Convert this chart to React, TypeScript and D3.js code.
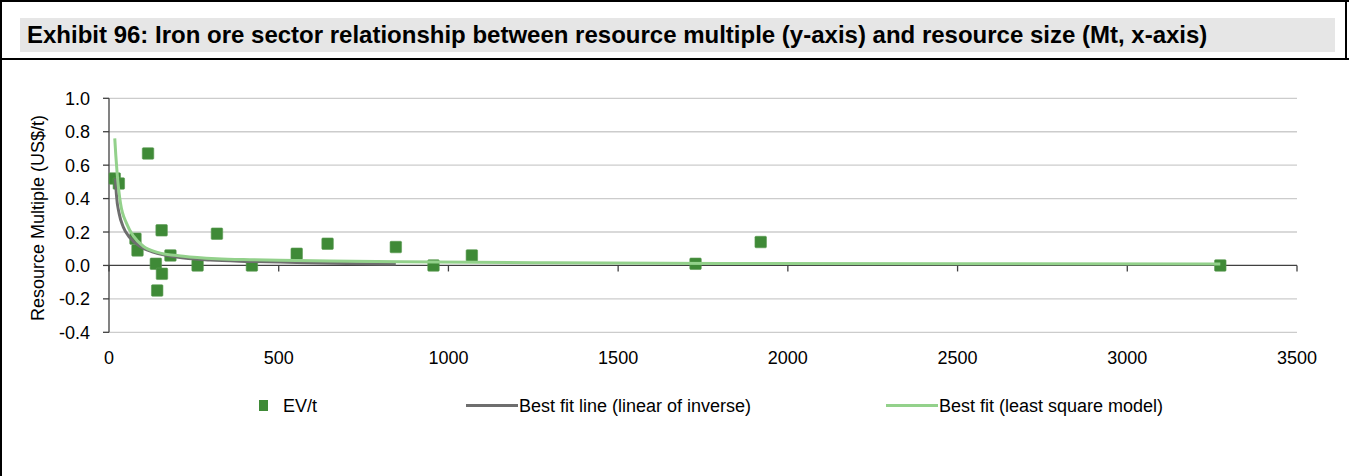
import React from "react";
import * as d3 from "d3";

// EV/t observations: resource size (Mt) and resource multiple (US$/t)
const evSize = [17, 29, 115, 78, 84, 155, 138, 156, 142, 181, 261, 318, 421, 553, 644, 845, 956, 1069, 1728, 1920, 3274];
const evMultiple = [0.52, 0.49, 0.67, 0.16, 0.09, 0.21, 0.01, -0.05, -0.15, 0.06, 0.0, 0.19, 0.0, 0.07, 0.13, 0.11, 0.0, 0.06, 0.01, 0.14, 0.0];

// Best fit line (linear of inverse), sampled along the curve
const inverseSize = [19, 22, 30, 42, 62, 91, 130, 199, 298, 415, 553, 700, 845];
const inverseMultiple = [0.52, 0.42, 0.31, 0.23, 0.165, 0.115, 0.08, 0.05, 0.032, 0.024, 0.018, 0.012, 0.008];

// Best fit (least square model), sampled along the curve
const lsqSize = [17, 20, 24, 34, 52, 72, 101, 140, 219, 317, 415, 553, 857, 1300, 1800, 2600, 3274];
const lsqMultiple = [0.76, 0.66, 0.55, 0.37, 0.25, 0.175, 0.115, 0.08, 0.055, 0.04, 0.034, 0.03, 0.022, 0.016, 0.012, 0.01, 0.008];

const xTicks = [0, 500, 1000, 1500, 2000, 2500, 3000, 3500];
const yTicks = [-0.4, -0.2, 0.0, 0.2, 0.4, 0.6, 0.8, 1.0];

const title =
  "Exhibit 96: Iron ore sector relationship between resource multiple (y-axis) and resource size (Mt, x-axis)";
const yAxisTitle = "Resource Multiple (US$/t)";
const legendLabels = ["EV/t", "Best fit line (linear of inverse)", "Best fit (least square model)"];

const W = 1349;
const H = 476;
const FONT = "'Liberation Sans', Arial, sans-serif";
const MARKER = "#3f8a37";
const GREY_LINE = "#6e6e6e";
const LIGHT_GREEN = "#93d18b";

export default function App() {
  const x = d3.scaleLinear().domain([0, 3500]).range([109, 1297]);
  const y = d3.scaleLinear().domain([-0.4, 1.0]).range([332.3, 98.3]);

  const line = d3
    .line<[number, number]>()
    .x((d) => x(d[0]))
    .y((d) => y(d[1]))
    .curve(d3.curveMonotoneX);

  const inversePts = inverseSize.map((s, i) => [s, inverseMultiple[i]] as [number, number]);
  const lsqPts = lsqSize.map((s, i) => [s, lsqMultiple[i]] as [number, number]);

  const y0 = y(0);
  const ms = 11.5;

  return (
    <svg
      width={W}
      height={H}
      style={{ position: "absolute", left: 0, top: 0, background: "#fff" }}
      fontFamily={FONT}
    >
      {/* frame */}
      <rect x={0} y={0} width={W} height={H} fill="#fff" />
      <line x1={0} x2={W} y1={1} y2={1} stroke="#000" strokeWidth={2} />
      <line x1={1} x2={1} y1={0} y2={H} stroke="#000" strokeWidth={2} />
      <line x1={W - 3} x2={W - 3} y1={0} y2={60} stroke="#000" strokeWidth={2} />
      <line x1={0} x2={W} y1={59} y2={59} stroke="#000" strokeWidth={2} />

      {/* title band */}
      <rect x={20} y={18} width={1315} height={34} fill="#e6e6e6" />
      <text x={27} y={43} fontSize={24} fontWeight="bold" fill="#000">
        {title}
      </text>

      {/* gridlines */}
      {yTicks.map((t) =>
        t === 0 ? null : (
          <line key={"g" + t} x1={x(0)} x2={x(3500)} y1={y(t)} y2={y(t)} stroke="#cccccc" strokeWidth={1.3} />
        )
      )}

      {/* y axis */}
      <line x1={x(0)} x2={x(0)} y1={y(1.0)} y2={y(-0.4)} stroke="#404040" strokeWidth={1.3} />
      {yTicks.map((t) => (
        <g key={"y" + t}>
          <line x1={x(0) - 6} x2={x(0)} y1={y(t)} y2={y(t)} stroke="#404040" strokeWidth={1.3} />
          <text x={90} y={y(t) + 6.5} fontSize={18} textAnchor="end" fill="#000">
            {d3.format(".1f")(t).replace("−", "-")}
          </text>
        </g>
      ))}

      {/* x axis at zero */}
      <line x1={x(0)} x2={x(3500)} y1={y0} y2={y0} stroke="#404040" strokeWidth={1.3} />
      {xTicks.map((t) => (
        <g key={"x" + t}>
          <line x1={x(t)} x2={x(t)} y1={y0} y2={y0 + 6} stroke="#404040" strokeWidth={1.3} />
          <text x={x(t)} y={364} fontSize={18} textAnchor="middle" fill="#000">
            {t}
          </text>
        </g>
      ))}

      <text
        transform={`translate(38,${218}) rotate(-90)`}
        fontSize={18}
        textAnchor="middle"
        dominantBaseline="central"
        fill="#000"
      >
        {yAxisTitle}
      </text>

      {/* EV/t markers */}
      {evSize.map((s, i) => (
        <rect
          key={"p" + i}
          x={x(s) - ms / 2}
          y={y(evMultiple[i]) - ms / 2}
          width={ms}
          height={ms}
          rx={1}
          fill={MARKER}
          stroke="#5a9a52"
          strokeWidth={0.6}
        />
      ))}

      {/* fit curves */}
      <path d={line(inversePts) || ""} fill="none" stroke={GREY_LINE} strokeWidth={3} />
      <path d={line(lsqPts) || ""} fill="none" stroke={LIGHT_GREEN} strokeWidth={3} />

      {/* legend */}
      <rect x={259} y={400} width={9} height={11} fill={MARKER} />
      <text x={283} y={411.5} fontSize={18} fill="#000">
        {legendLabels[0]}
      </text>
      <line x1={466} x2={518} y1={405.5} y2={405.5} stroke={GREY_LINE} strokeWidth={3} />
      <text x={519} y={411.5} fontSize={18} fill="#000">
        {legendLabels[1]}
      </text>
      <line x1={886} x2={938} y1={405.5} y2={405.5} stroke={LIGHT_GREEN} strokeWidth={3} />
      <text x={939} y={411.5} fontSize={18} fill="#000">
        {legendLabels[2]}
      </text>
    </svg>
  );
}
